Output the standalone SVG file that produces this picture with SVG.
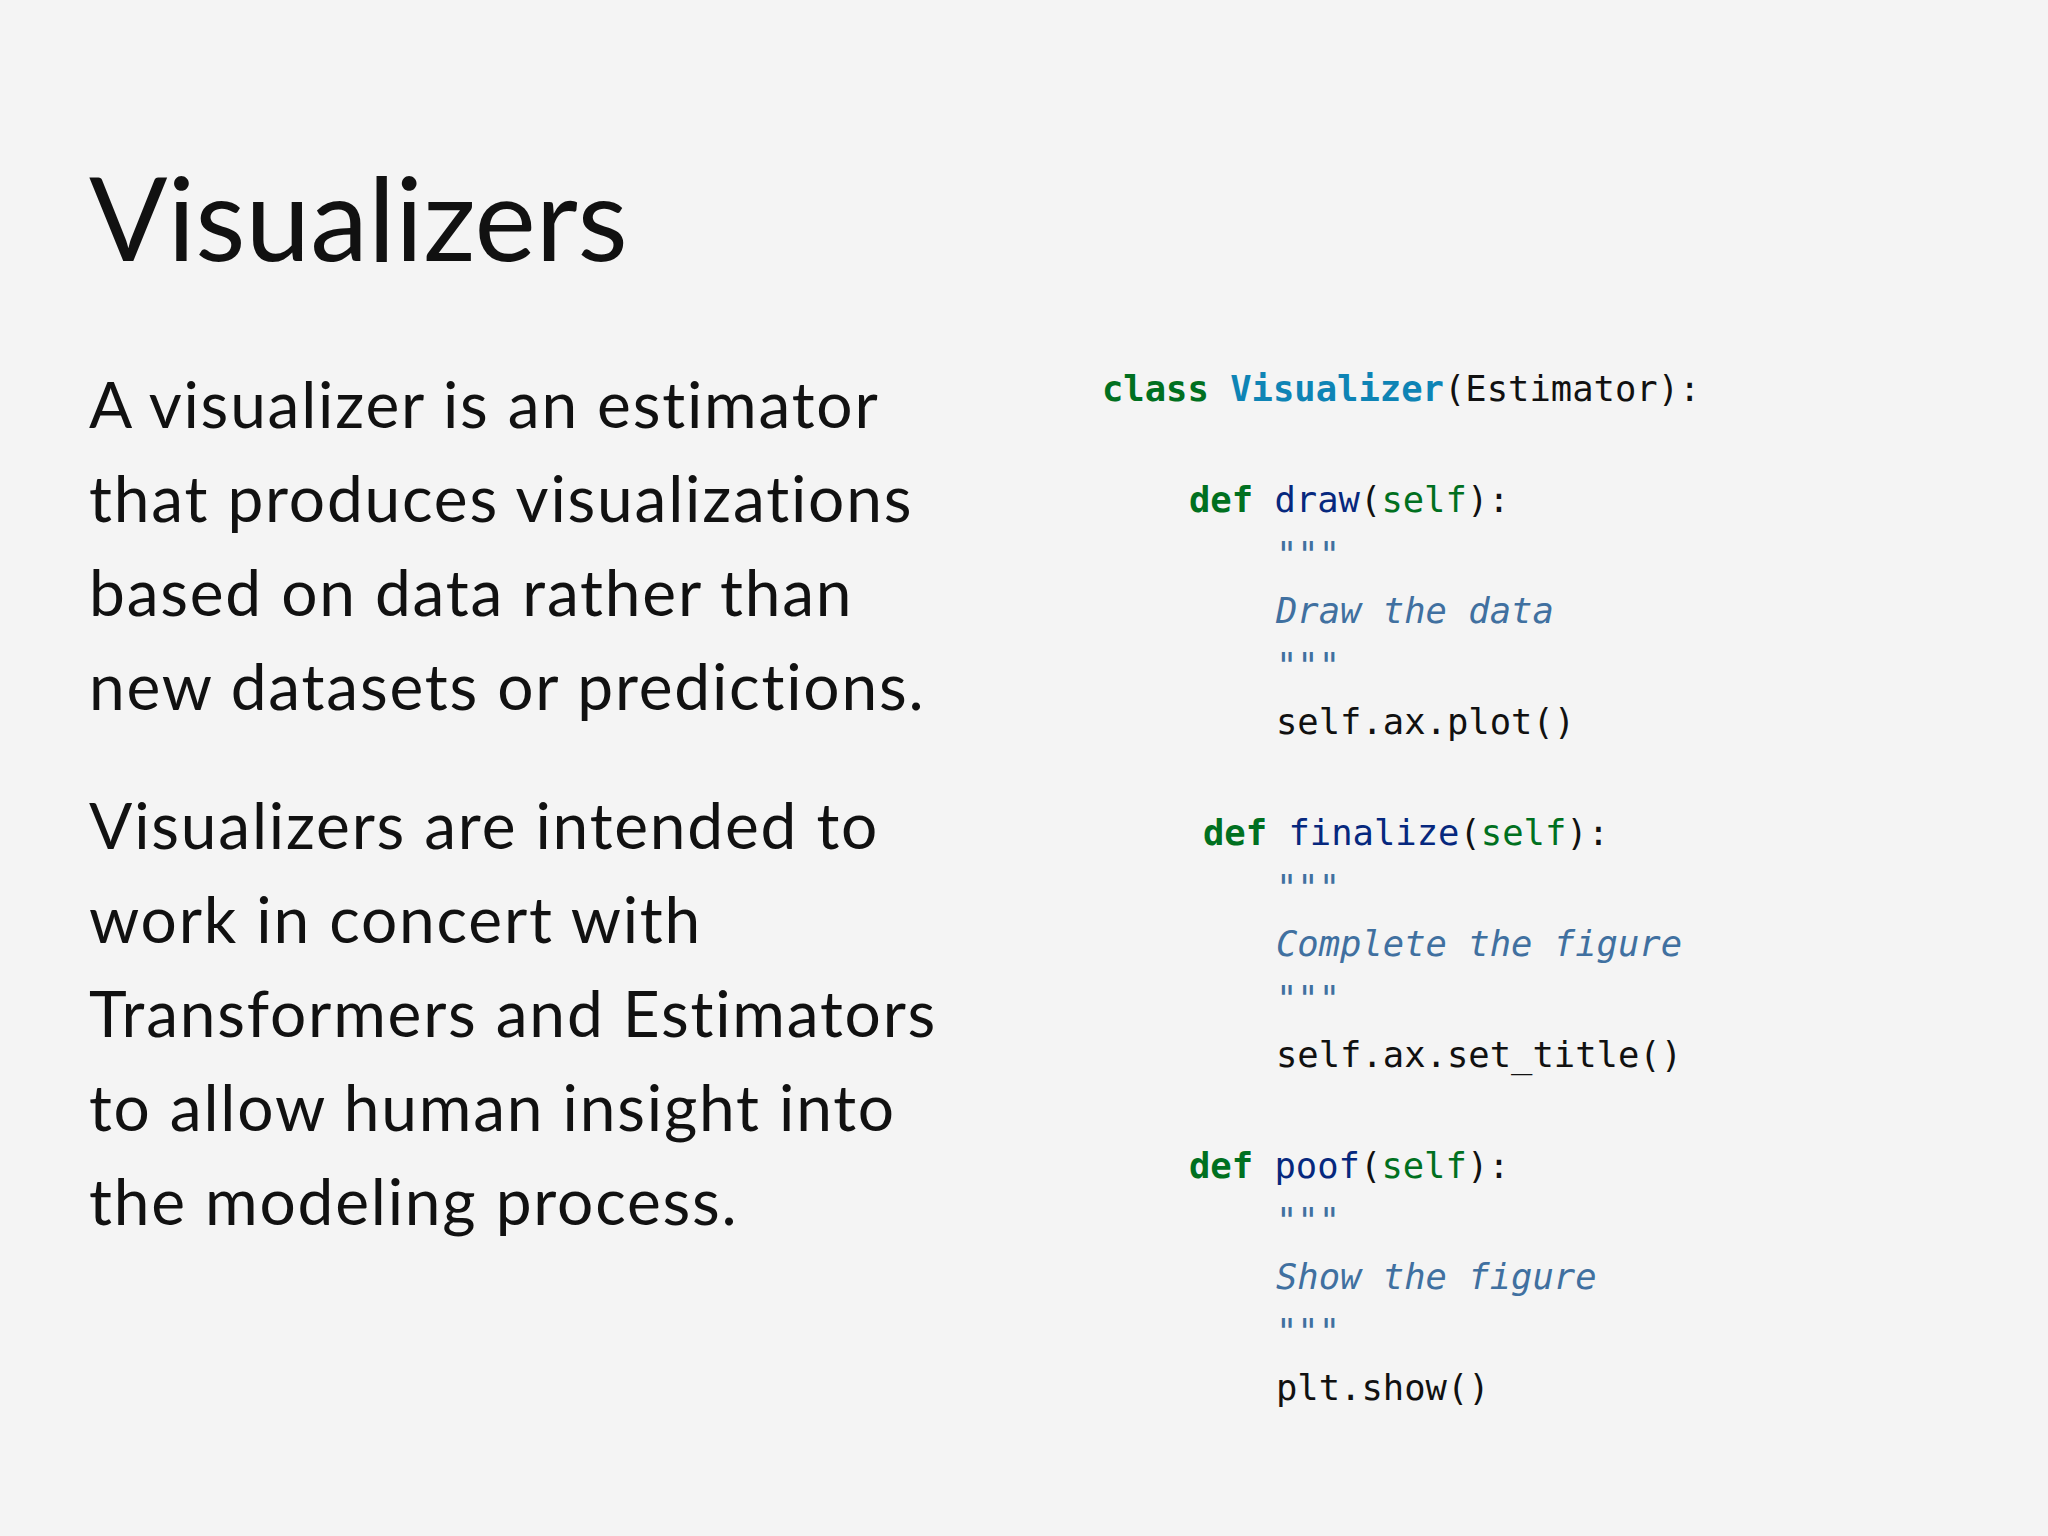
<svg xmlns="http://www.w3.org/2000/svg" width="2048" height="1536" viewBox="0 0 2048 1536">
<style>
.t{font-family:Lato,"Open Sans",sans-serif;fill:#111}
.c{font-family:"DejaVu Sans Mono","Liberation Mono",monospace;font-size:35.5px;fill:#111}
.k{fill:#007020;font-weight:bold}
.n{fill:#0e84b5;font-weight:bold}
.f{fill:#06287e}
.s{fill:#007020}
.d{fill:#4070a0;font-style:italic}
</style>
<rect width="2048" height="1536" fill="#f4f4f4"/>
<g id="title"><text class="t" x="89" y="261" font-size="116">Visualizers</text></g>
<g id="body" class="t" font-size="64" letter-spacing="1.8">
<text x="89" y="428">A visualizer is an estimator</text>
<text x="89" y="522">that produces visualizations</text>
<text x="89" y="616">based on data rather than</text>
<text x="89" y="710">new datasets or predictions.</text>
<text x="89" y="849">Visualizers are intended to</text>
<text x="89" y="943">work in concert with</text>
<text x="89" y="1037">Transformers and Estimators</text>
<text x="89" y="1131">to allow human insight into</text>
<text x="89" y="1225">the modeling process.</text>
</g>
<g id="code" class="c">
<text x="1102" y="401"><tspan class="k">class</tspan> <tspan class="n">Visualizer</tspan>(Estimator):</text>
<text x="1189" y="512"><tspan class="k">def</tspan> <tspan class="f">draw</tspan>(<tspan class="s">self</tspan>):</text>
<text x="1276" y="567" class="d">"""</text>
<text x="1276" y="623" class="d">Draw the data</text>
<text x="1276" y="678" class="d">"""</text>
<text x="1276" y="734">self.ax.plot()</text>
<text x="1203" y="845"><tspan class="k">def</tspan> <tspan class="f">finalize</tspan>(<tspan class="s">self</tspan>):</text>
<text x="1276" y="900" class="d">"""</text>
<text x="1276" y="956" class="d">Complete the figure</text>
<text x="1276" y="1011" class="d">"""</text>
<text x="1276" y="1067">self.ax.set_title()</text>
<text x="1189" y="1178"><tspan class="k">def</tspan> <tspan class="f">poof</tspan>(<tspan class="s">self</tspan>):</text>
<text x="1276" y="1233" class="d">"""</text>
<text x="1276" y="1289" class="d">Show the figure</text>
<text x="1276" y="1344" class="d">"""</text>
<text x="1276" y="1400">plt.show()</text>
</g>
</svg>
